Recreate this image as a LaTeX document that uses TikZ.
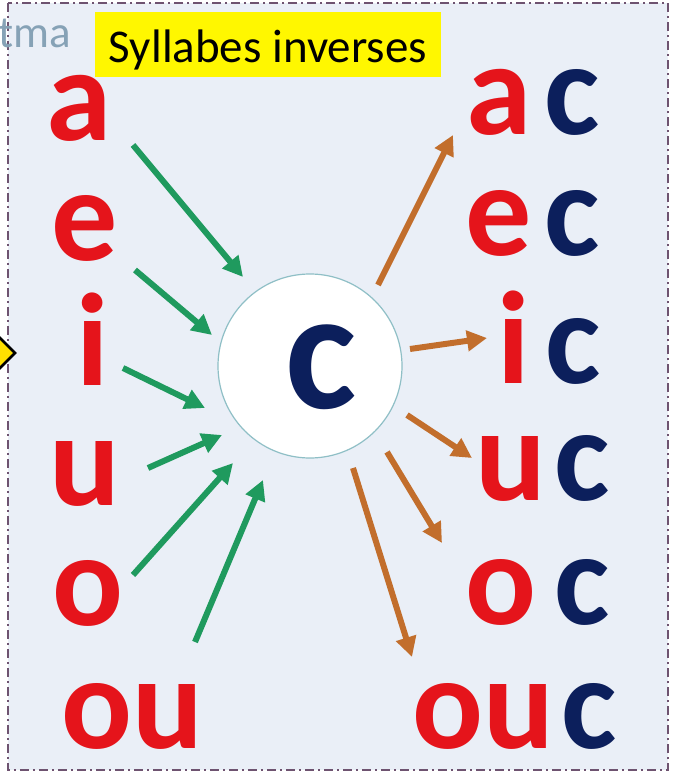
\documentclass[tikz,border=0pt]{standalone}
\usepackage{fontspec}
\setmainfont{Carlito}
\usetikzlibrary{arrows.meta}
\definecolor{vred}{HTML}{E5141B}
\definecolor{navy}{HTML}{0C1F5C}
\definecolor{gr}{HTML}{1F9A5E}
\definecolor{og}{HTML}{C26E2C}
\definecolor{bg}{HTML}{EAEFF7}
\definecolor{bord}{HTML}{6E5370}
\definecolor{ttl}{HTML}{FFF700}
\definecolor{tma}{HTML}{86A2B6}
\definecolor{circ}{HTML}{8FBFC6}
\begin{document}
\begin{tikzpicture}[x=1pt,y=-1pt,
  vow/.style={font=\fontsize{132}{132}\selectfont\bfseries, text=vred, inner sep=0pt, anchor=base},
  con/.style={vow, text=navy},
  garrow/.style={draw=gr, line width=6pt, -{Triangle[length=20pt,width=20pt]}},
  oarrow/.style={draw=og, line width=6pt, -{Triangle[length=20pt,width=20pt]}},
  frame/.style={draw=bord, line width=1.8pt, dash pattern=on 9pt off 4pt on 2pt off 4pt, fill=bg}
]
\useasboundingbox (0,0) rectangle (678,783);
\fill[white] (0,0) rectangle (678,783);
\draw[frame] (8,3) rectangle (668,770);
% left diamond
\filldraw[fill=ttl!80!orange, draw=black, line width=2.5pt] (-21,353) -- (-3,335) -- (15,353) -- (-3,371) -- cycle;
% texts at top
\node[font=\fontsize{45}{45}\selectfont, text=tma, anchor=base west, inner sep=0pt] (tm) at (-2,48) {tma};
\fill[ttl] (95,12) rectangle (441,77);
\node[font=\fontsize{47}{47}\selectfont, text=black, anchor=base, inner sep=0pt] (title) at (268,63) {Syllabes inverses};
% center circle
\node[circle, draw=circ, line width=1.2pt, fill=white, minimum size=184pt, inner sep=0pt] (C) at (310,366) {};
\node[font=\fontsize{170}{170}\selectfont\bfseries, text=navy, inner sep=0pt] (Ct) at (321,367) {c};
% left vowels
\node[vow] (La) at (79,141) {a};
\node[vow] (Le) at (85,261) {e};
\node[vow] (Li) at (93,385) {i};
\node[vow] (Lu) at (85,505) {u};
\node[vow] (Lo) at (88,625) {o};
\node[vow] (Lou) at (132,748) {ou};
% right syllables
\node[vow] (Ra) at (499,135) {a};
\node[con] (Rac) at (572,135) {c};
\node[vow] (Re) at (499,256) {e};
\node[con] (Rec) at (572,256) {c};
\node[vow] (Ri) at (514,383) {i};
\node[con] (Ric) at (573,383) {c};
\node[vow] (Ru) at (511,500) {u};
\node[con] (Ruc) at (582,500) {c};
\node[vow] (Ro) at (501,624) {o};
\node[con] (Roc) at (582,624) {c};
\node[vow] (Rou) at (483,748) {ou};
\node[con] (Rouc) at (589,748) {c};
% arrow end points
\coordinate (g1s) at (133,145); \coordinate (g1e) at (243,277);
\coordinate (g2s) at (135,270); \coordinate (g2e) at (212,335);
\coordinate (g3s) at (123,368); \coordinate (g3e) at (205,408);
\coordinate (g4s) at (148,468); \coordinate (g4e) at (222,435);
\coordinate (g5s) at (133,575); \coordinate (g5e) at (233,463);
\coordinate (g6s) at (195,642); \coordinate (g6e) at (263,480);
\coordinate (o1s) at (378,285); \coordinate (o1e) at (453,135);
\coordinate (o2s) at (410,349); \coordinate (o2e) at (487,338);
\coordinate (o3s) at (407,415); \coordinate (o3e) at (472,458);
\coordinate (o4s) at (387,452); \coordinate (o4e) at (442,543);
\coordinate (o5s) at (353,468); \coordinate (o5e) at (412,657);
\foreach \i in {1,...,6} {\draw[garrow] (g\i s) -- (g\i e);}
\foreach \i in {1,...,5} {\draw[oarrow] (o\i s) -- (o\i e);}
\end{tikzpicture}
\end{document}
